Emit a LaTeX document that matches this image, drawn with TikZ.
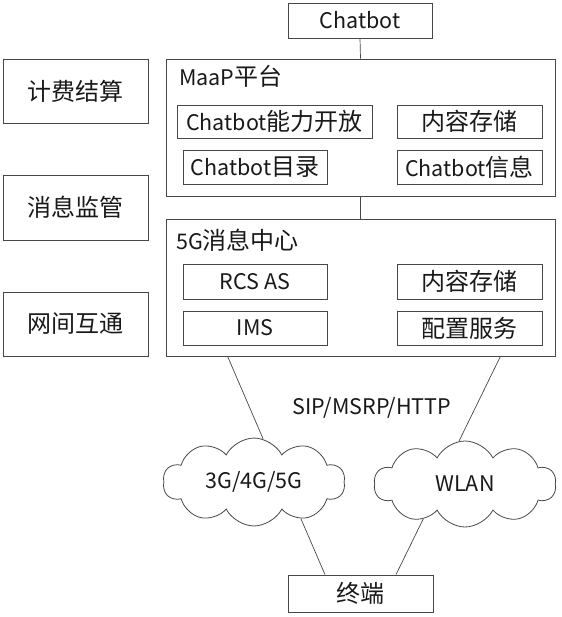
\documentclass[tikz,border=0pt]{standalone}
\usepackage{fontspec}
\setmainfont{Noto Sans CJK SC}
\usetikzlibrary{shapes.symbols}
\newcommand\latn[1]{{\fontsize{21.5}{24}\selectfont #1}}
\begin{document}
\begin{tikzpicture}[x=1pt,y=-1pt,
  every node/.style={font=\fontsize{24}{28}\selectfont, text=black!90},
  box/.style={draw=black!72, line width=0.8pt, inner sep=0pt, minimum width=#1},
  box/.default=145pt,
  cloudy/.style={draw=black!72, line width=0.8pt, cloud, cloud puffs=10, cloud puff arc=125, aspect=2.1, inner sep=0pt, minimum width=182pt, minimum height=86pt},
  conn/.style={draw=black!72, line width=0.7pt}]
\useasboundingbox (0,0) rectangle (561,617);
% top
\node[box=144pt, minimum height=35pt] (chatbot) at (360,20.5) {\latn{Chatbot}};
% MaaP platform
\node[box=389pt, minimum height=137pt] (maap) at (360.5,127.5) {};
\node[anchor=west, inner sep=0pt] (maapl) at (179,76) {\latn{MaaP}平台};
\node[box=195pt, minimum height=33pt] (b1) at (274.5,121.5) {\latn{Chatbot}能力开放};
\node[box=145pt, minimum height=33pt] (b2) at (469.5,121.5) {内容存储};
\node[box=144pt, minimum height=34pt] (b3) at (255,167) {\latn{Chatbot}目录};
\node[box=145pt, minimum height=34pt] (b4) at (469.5,167) {\latn{Chatbot}信息};
% 5G message center
\node[box=389pt, minimum height=137pt] (mc) at (360.5,287.5) {};
\node[anchor=west, inner sep=0pt] (mcl) at (176,240) {\latn{5G}消息中心};
\node[box=144pt, minimum height=35pt] (c1) at (255,281.5) {\latn{RCS AS}};
\node[box=145pt, minimum height=35pt] (c2) at (469.5,281.5) {内容存储};
\node[box=144pt, minimum height=34pt] (c3) at (255,328) {\latn{IMS}};
\node[box=145pt, minimum height=34pt] (c4) at (469.5,328) {配置服务};
% left
\node[box=145pt, minimum height=64pt] (l1) at (75.5,91) {计费结算};
\node[box=145pt, minimum height=65pt] (l2) at (75.5,207.5) {消息监管};
\node[box=145pt, minimum height=64pt] (l3) at (75.5,324) {网间互通};
% protocol
\node (sip) at (372,408) {\latn{SIP/MSRP/HTTP}};
% clouds
\node[cloudy] (cl1) at (254,482) {\latn{3G/4G/5G}};
\node[cloudy] (cl2) at (465,484) {\latn{WLAN}};
% terminal
\node[box=145pt, minimum height=37pt] (term) at (360.5,593.5) {终端};
% connectors
\draw[conn] (chatbot.south) -- (maap.north);
\draw[conn] (maap.south) -- (mc.north);
\draw[conn] ([xshift=62pt]mc.south west) -- (cl1.78);
\draw[conn] ([xshift=-55pt]mc.south east) -- (cl2.98);
\draw[conn] (cl1.-38) -- ([xshift=-35.5pt]term.north);
\draw[conn] (cl2.-140) -- ([xshift=35.5pt]term.north);
\end{tikzpicture}
\end{document}
